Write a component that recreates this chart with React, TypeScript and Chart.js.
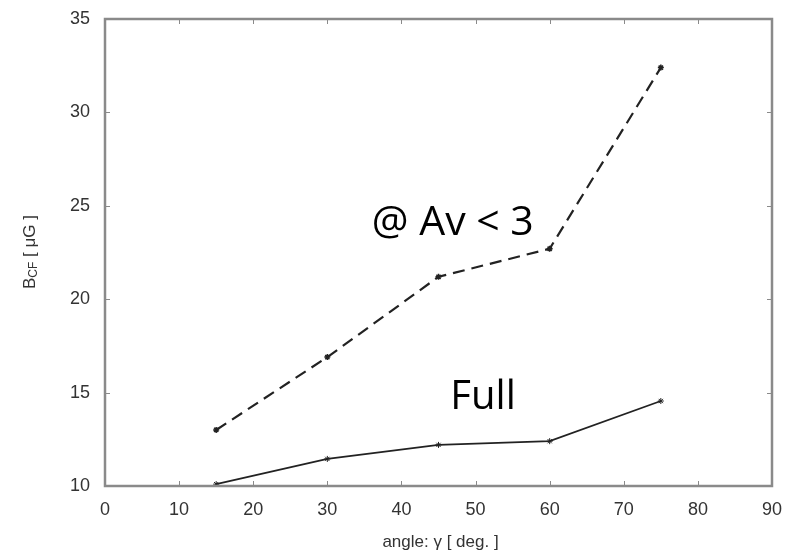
import React, { useEffect, useRef } from "react";
import { Chart, registerables } from "chart.js";
Chart.register(...registerables);

const angles = [15, 30, 45, 60, 75];
const avSeries = [13.0, 16.9, 21.2, 22.7, 32.4];
const fullSeries = [10.1, 11.45, 12.2, 12.4, 14.55];
const xTicks = [0, 10, 20, 30, 40, 50, 60, 70, 80, 90];
const yTicks = [10, 15, 20, 25, 30, 35];
const labelAv = "@ Av < 3";
const labelFull = "Full";

export default function App() {
  const ref = useRef<HTMLCanvasElement>(null);
  useEffect(() => {
    const canvas = ref.current!;
    const frame = {
      id: "frame",
      afterDraw(chart: any) {
        const { ctx, chartArea: a, scales } = chart;
        const xs = scales.x, ys = scales.y;
        ctx.save();
        ctx.strokeStyle = "#8a8a8a";
        ctx.lineWidth = 1;
        const t = 5;
        xTicks.forEach((v) => {
          const px = Math.round(xs.getPixelForValue(v)) + 0.5;
          ctx.beginPath();
          ctx.moveTo(px, a.bottom); ctx.lineTo(px, a.bottom - t);
          ctx.moveTo(px, a.top); ctx.lineTo(px, a.top + t);
          ctx.stroke();
        });
        yTicks.forEach((v) => {
          const py = Math.round(ys.getPixelForValue(v)) + 0.5;
          ctx.beginPath();
          ctx.moveTo(a.left, py); ctx.lineTo(a.left + t, py);
          ctx.moveTo(a.right, py); ctx.lineTo(a.right - t, py);
          ctx.stroke();
        });
        ctx.lineWidth = 2.5;
        ctx.strokeRect(a.left, a.top, a.right - a.left, a.bottom - a.top);
        // tick labels
        ctx.fillStyle = "#333";
        ctx.font = "18px 'Liberation Sans', Arial, sans-serif";
        ctx.textBaseline = "middle";
        ctx.textAlign = "center";
        xTicks.forEach((v) => ctx.fillText(String(v), xs.getPixelForValue(v), a.bottom + 24));
        ctx.textAlign = "right";
        yTicks.forEach((v) => ctx.fillText(String(v), a.left - 15, ys.getPixelForValue(v)));
        // axis titles
        ctx.font = "17px 'Liberation Sans', Arial, sans-serif";
        ctx.textAlign = "center";
        ctx.fillText("angle: γ [ deg. ]", (a.left + a.right) / 2 + 2, 542);
        ctx.save();
        ctx.translate(30, 252);
        ctx.rotate(-Math.PI / 2);
        const big = "17px 'Liberation Sans', Arial, sans-serif";
        const small = "12px 'Liberation Sans', Arial, sans-serif";
        ctx.font = big; const wB = ctx.measureText("B").width;
        const rest = " [ μG ]"; const wR = ctx.measureText(rest).width;
        ctx.font = small; const wS = ctx.measureText("CF").width;
        let x0 = -(wB + wS + wR) / 2;
        ctx.textAlign = "left";
        ctx.font = big; ctx.fillText("B", x0, 0); x0 += wB;
        ctx.font = small; ctx.fillText("CF", x0, 4); x0 += wS;
        ctx.font = big; ctx.fillText(rest, x0, 0);
        ctx.restore();
        // annotations
        ctx.fillStyle = "#000";
        ctx.textAlign = "left";
        ctx.textBaseline = "alphabetic";
        ctx.font = "41px 'Open Sans', 'Noto Sans', sans-serif";
        ctx.fillText(labelAv, xs.getPixelForValue(36.0), ys.getPixelForValue(23.44));
        ctx.font = "40px 'Open Sans', 'Noto Sans', sans-serif";
        ctx.fillText(labelFull, xs.getPixelForValue(46.6), ys.getPixelForValue(14.12));
        ctx.restore();
      },
    };
    const chart = new Chart(canvas, {
      type: "line",
      data: {
        datasets: [
          {
            data: angles.map((x, i) => ({ x, y: avSeries[i] })),
            borderColor: "#222",
            backgroundColor: "#222",
            borderWidth: 2.2,
            borderDash: [12, 7],
            pointStyle: "star",
            pointRadius: 3,
            pointBorderWidth: 1.5,
            tension: 0,
          },
          {
            data: angles.map((x, i) => ({ x, y: fullSeries[i] })),
            borderColor: "#222",
            backgroundColor: "#222",
            borderWidth: 1.8,
            pointStyle: "star",
            pointRadius: 3,
            pointBorderWidth: 1,
            tension: 0,
          },
        ],
      },
      plugins: [frame],
      options: {
        responsive: false,
        animation: false,
        layout: { padding: { top: 19, right: 21, left: 0, bottom: 0 } },
        plugins: { legend: { display: false }, tooltip: { enabled: false } },
        scales: {
          x: {
            type: "linear",
            min: 0,
            max: 90,
            afterFit(s: any) { s.height = 70; s.paddingLeft = 0; s.paddingRight = 0; },
            grid: { display: false, drawTicks: false },
            border: { display: false },
            ticks: { display: false },
          },
          y: {
            type: "linear",
            min: 10,
            max: 35,
            afterFit(s: any) { s.width = 105; s.paddingTop = 0; s.paddingBottom = 0; },
            grid: { display: false, drawTicks: false },
            border: { display: false },
            ticks: { display: false },
          },
        },
      },
    });
    return () => chart.destroy();
  }, []);
  return (
    <div style={{ position: "fixed", left: 0, top: 0, width: 793, height: 556, background: "#fff" }}>
      <canvas ref={ref} width={793} height={556} style={{ width: 793, height: 556 }} />
    </div>
  );
}
